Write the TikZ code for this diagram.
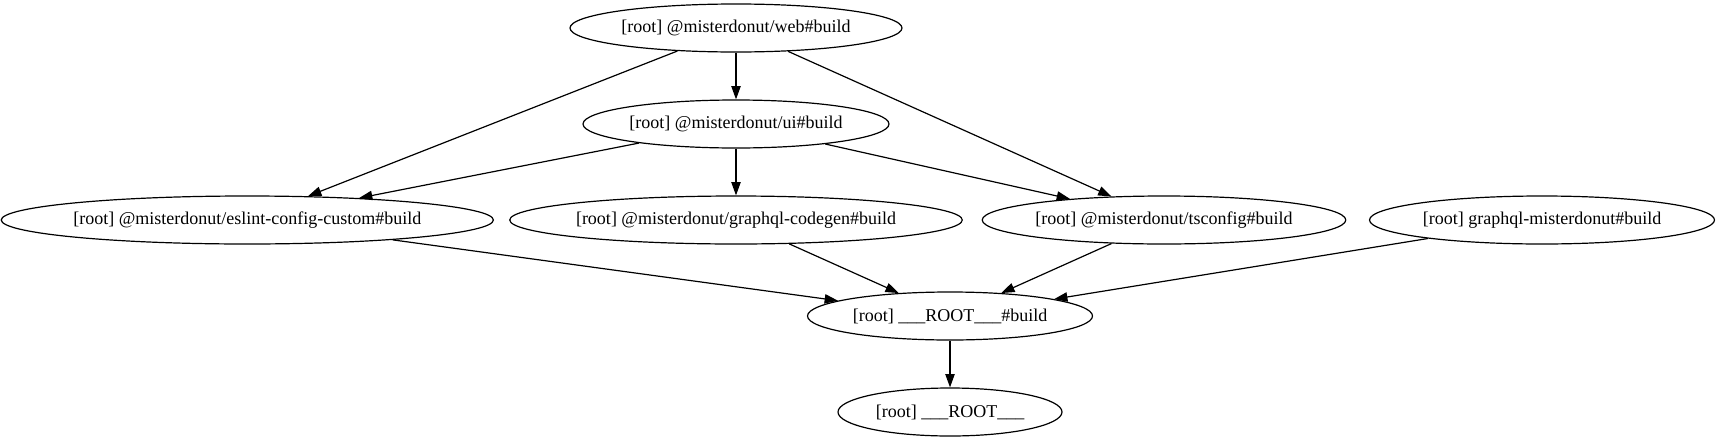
\documentclass[tikz,border=0pt]{standalone}
\usepackage{fontspec}
\setmainfont{Liberation Serif}
\usepackage{tikz}
\usetikzlibrary{arrows.meta, shapes.geometric}

\begin{document}
\begin{tikzpicture}[
    x=1pt, y=-1pt,
    task/.style={ellipse, draw=black, line width=0.9pt, minimum height=36pt, inner sep=0pt,
                 font=\fontsize{13.5}{16}\selectfont},
    dep/.style={-{Triangle[length=10pt, width=7pt]}, line width=0.9pt},
  ]
  \useasboundingbox (0,0) rectangle (1289.25,332.25);

  % tasks
  \node[task, minimum width=249pt] (web) at (552,21) {[root] @misterdonut/web\#build};
  \node[task, minimum width=229.5pt] (ui) at (552,93) {[root] @misterdonut/ui\#build};
  \node[task, minimum width=361pt] (eslint) at (185.5,165) {[root] @misterdonut/eslint-config-custom\#build};
  \node[task, minimum width=336pt] (codegen) at (552,165) {[root] @misterdonut/graphql-codegen\#build};
  \node[task, minimum width=271.5pt] (tsconfig) at (873,165) {[root] @misterdonut/tsconfig\#build};
  \node[task, minimum width=258.75pt] (gqlmd) at (1156.5,165) {[root] graphql-misterdonut\#build};
  \node[task, minimum width=213.75pt] (rootbuild) at (712.5,237) {[root] \_\_\_ROOT\_\_\_\#build};
  \node[task, minimum width=168pt] (root) at (712.5,309) {[root] \_\_\_ROOT\_\_\_};

  % dependencies
  \draw[dep] (web) -- (ui);
  \draw[dep] (web) -- (eslint);
  \draw[dep] (web) -- (tsconfig);
  \draw[dep] (ui) -- (eslint);
  \draw[dep] (ui) -- (codegen);
  \draw[dep] (ui) -- (tsconfig);
  \draw[dep] (eslint) -- (rootbuild);
  \draw[dep] (codegen) -- (rootbuild);
  \draw[dep] (tsconfig) -- (rootbuild);
  \draw[dep] (gqlmd) -- (rootbuild);
  \draw[dep] (rootbuild) -- (root);
\end{tikzpicture}
\end{document}
